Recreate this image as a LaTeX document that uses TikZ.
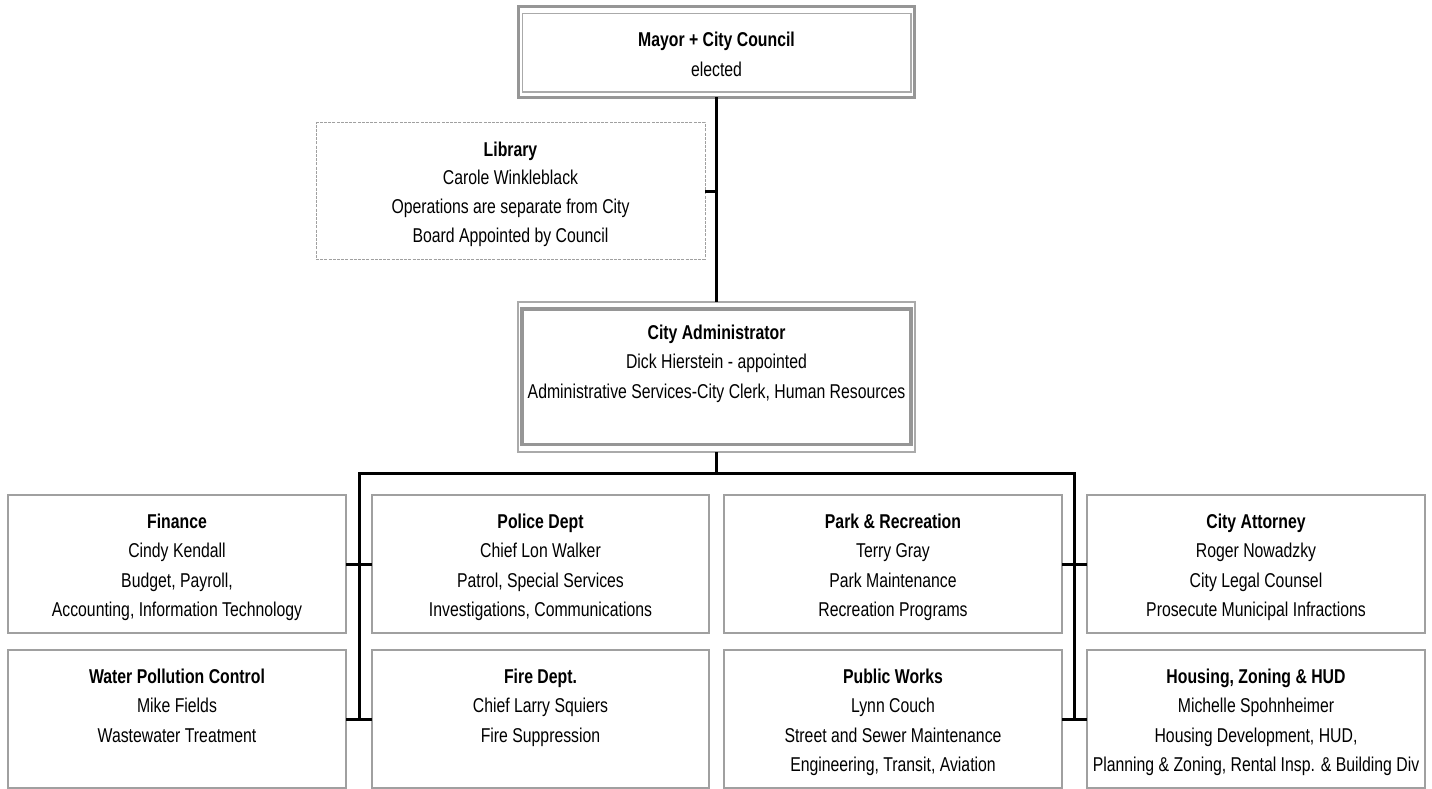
\documentclass[tikz,border=0pt]{standalone}
\usepackage{fontspec}
\setmainfont{Liberation Sans}[FakeStretch=0.79]
\usetikzlibrary{calc}
\definecolor{boxgray}{RGB}{160,160,160}
\definecolor{framegray}{RGB}{150,150,150}
\definecolor{thingray}{RGB}{170,170,170}
\newcommand{\bx}[4]{\parbox[c][#2pt][t]{#1pt}{\centering\fontsize{20}{29.6}\selectfont\rule{0pt}{#3pt}#4}}
\tikzset{
  orgbox/.style={inner sep=0pt, outer sep=0pt, draw=boxgray, line width=2.3pt},
  plainbox/.style={inner sep=0pt, outer sep=0pt},
  libbox/.style={inner sep=0pt, outer sep=0pt, draw=boxgray, line width=1pt, dash pattern=on 3pt off 1.2pt},
  conn/.style={draw=black, line width=3pt},
  thickframe/.style={draw=framegray, line width=3.5pt},
  thinframe/.style={draw=thingray, line width=1.3pt}
}
\begin{document}
\begin{tikzpicture}[x=1pt,y=-1pt]
\useasboundingbox (0,0) rectangle (1432,789);
\fill[white] (0,0) rectangle (1432,789);

% Mayor + City Council
\node[plainbox] (mayor) at (716.5,52) {\bx{396}{91}{40.5}{\textbf{Mayor + City Council}\\elected}};
\draw[thickframe] (mayor.north west) rectangle (mayor.south east);
\draw[thinframe] ([shift={(4pt,-7pt)}]mayor.north west) rectangle ([shift={(-3.5pt,5.5pt)}]mayor.south east);

% Library
\node[libbox] (lib) at (510.5,191) {\bx{389}{136}{33}{\fontsize{20}{28.7}\selectfont\textbf{Library}\\Carole Winkleblack\\Operations are separate from City\\Board Appointed by Council}};

% City Administrator
\node[plainbox] (admin) at (716.5,377) {\bx{397}{150}{37}{\textbf{City Administrator}\\Dick Hierstein - appointed\\Administrative Services-City Clerk, Human Resources}};
\draw[thinframe] (admin.north west) rectangle (admin.south east);
\draw[thickframe] ([shift={(4pt,-7pt)}]admin.north west) rectangle ([shift={(-4pt,7.5pt)}]admin.south east);

% Row 1
\node[orgbox] (finance) at (177,564) {\bx{338}{138}{33}{\textbf{Finance}\\Cindy Kendall\\Budget, Payroll,\\Accounting, Information Technology}};
\node[orgbox] (police) at (540.5,564) {\bx{337}{138}{33}{\textbf{Police Dept}\\Chief Lon Walker\\Patrol, Special Services\\Investigations, Communications}};
\node[orgbox] (park) at (893,564) {\bx{338}{138}{33}{\textbf{Park \& Recreation}\\Terry Gray\\Park Maintenance\\Recreation Programs}};
\node[orgbox] (attorney) at (1256,564) {\bx{338}{138}{33}{\textbf{City Attorney}\\Roger Nowadzky\\City Legal Counsel\\Prosecute Municipal Infractions}};

% Row 2
\node[orgbox] (water) at (177,719) {\bx{338}{138}{33}{\textbf{Water Pollution Control}\\Mike Fields\\Wastewater Treatment}};
\node[orgbox] (fire) at (540.5,719) {\bx{337}{138}{33}{\textbf{Fire Dept.}\\Chief Larry Squiers\\Fire Suppression}};
\node[orgbox] (works) at (893,719) {\bx{338}{138}{33}{\textbf{Public Works}\\Lynn Couch\\Street and Sewer Maintenance\\Engineering, Transit, Aviation}};
\node[orgbox] (housing) at (1256,719) {\bx{338}{138}{33}{\textbf{Housing, Zoning \& HUD}\\Michelle Spohnheimer\\Housing Development, HUD,\\Planning \& Zoning, Rental Insp. \& Building Div}};

% Connectors
\draw[conn] (mayor.south) -- (admin.north);
\draw[conn] (lib.east) -- (lib.east -| mayor.south);
\coordinate (bus) at (716.5,473);
\draw[conn, line width=2.2pt] (admin.south) -- (bus);
\coordinate (jl) at ($(finance.east)!.5!(police.west)$);
\coordinate (jr) at ($(park.east)!.5!(attorney.west)$);
\draw[conn] (jl |- water.east) -- (jl |- bus) -- (jr |- bus) -- (jr |- housing.west);
\draw[conn] (finance.east) -- (police.west);
\draw[conn] (water.east) -- (fire.west);
\draw[conn] (park.east) -- (attorney.west);
\draw[conn] (works.east) -- (housing.west);
\end{tikzpicture}
\end{document}
